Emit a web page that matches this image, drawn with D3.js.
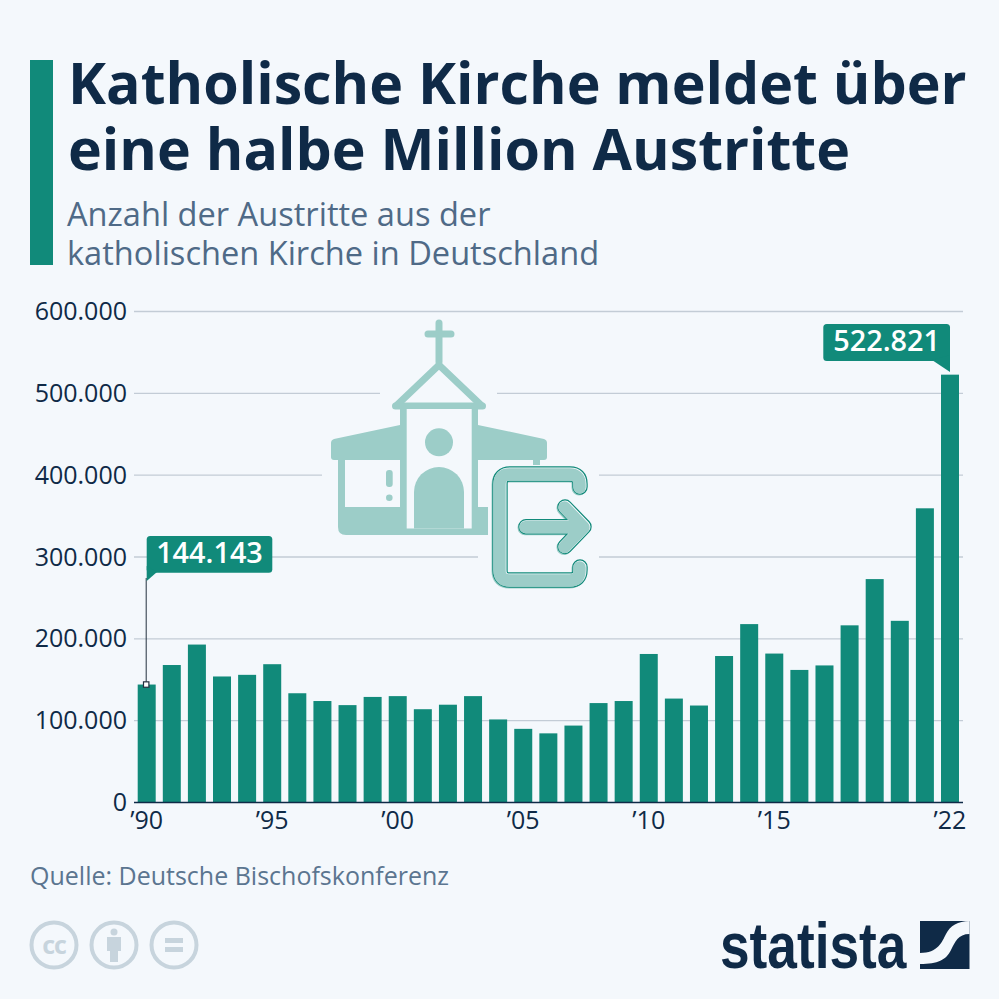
<!DOCTYPE html>
<html>
<head>
<meta charset="utf-8">
<script src="https://cdn.jsdelivr.net/npm/d3@7"></script>
<style>
html, body { margin: 0; padding: 0; background: #f4f8fc; }
svg { display: block; }
text { font-family: "Open Sans", sans-serif; }
</style>
</head>
<body>
<svg id="chart" width="999" height="999"></svg>
<script>
var years = [1990,1991,1992,1993,1994,1995,1996,1997,1998,1999,2000,2001,2002,2003,2004,2005,2006,2007,2008,2009,2010,2011,2012,2013,2014,2015,2016,2017,2018,2019,2020,2021,2022];
var exits = [144143,168000,193000,154000,156000,169000,133500,124000,119000,129000,130000,114000,119500,130000,101500,90000,84500,94000,121500,124000,181500,127000,118500,179000,218000,182000,162000,167500,216500,273000,222000,359500,522821];
var yTicks = [0,100000,200000,300000,400000,500000,600000];
var xTicks = [1990,1995,2000,2005,2010,2015,2022];
var titleLines = ["Katholische Kirche meldet über","eine halbe Million Austritte"];
var subtitleLines = ["Anzahl der Austritte aus der","katholischen Kirche in Deutschland"];
var source = "Quelle: Deutsche Bischofskonferenz";

var bg = "#f4f8fc", teal = "#118a7a", light = "#9ccdc8", navy = "#0f2a47", slate = "#4f6a87";

var svg = d3.select("#chart");
var de = d3.formatLocale({decimal: ",", thousands: ".", grouping: [3], currency: ["", "€"]});
var fmt = de.format(",d");

// header
svg.append("rect").attr("x", 30).attr("y", 60).attr("width", 23).attr("height", 205).attr("fill", teal);
svg.selectAll(".title").data(titleLines).enter().append("text")
    .attr("x", 68)
    .attr("y", function(d, i) { return 104 + i * 66; })
    .attr("font-size", 57.3).attr("font-weight", 700).attr("fill", navy)
    .text(function(d) { return d; });
svg.selectAll(".sub").data(subtitleLines).enter().append("text")
    .attr("x", 67)
    .attr("y", function(d, i) { return 226 + i * 39; })
    .attr("font-size", 32.6).attr("fill", slate)
    .text(function(d) { return d; });

// scales
var x = d3.scaleBand().domain(years).range([137.7, 959]).paddingInner(0.283).paddingOuter(0);
var y = d3.scaleLinear().domain([0, 600000]).range([802.5, 311.5]);

// y axis and grid
var yAxis = d3.axisLeft(y).tickValues(yTicks).tickFormat(function(d) { return fmt(d); }).tickSize(0).tickPadding(7);
var gy = svg.append("g").attr("transform", "translate(134,0)").call(yAxis);
gy.select(".domain").remove();
gy.selectAll("text").attr("font-size", 25).attr("font-family", "'Open Sans', sans-serif").attr("fill", navy);
svg.append("g").selectAll("line").data(yTicks.slice(1)).enter().append("line")
    .attr("x1", 134).attr("x2", 963)
    .attr("y1", function(d) { return y(d); })
    .attr("y2", function(d) { return y(d); })
    .attr("stroke", "#c3ccd6").attr("stroke-width", 1.3);

// gridlines stop around the icon
var gaps = [[380, 385, 117, 16], [322, 468, 277, 16], [478, 549, 121, 16]];
svg.append("g").selectAll("rect").data(gaps).enter().append("rect")
    .attr("x", function(d) { return d[0]; }).attr("y", function(d) { return d[1]; })
    .attr("width", function(d) { return d[2]; }).attr("height", function(d) { return d[3]; })
    .attr("fill", bg);

// church icon
var icon = svg.append("g").attr("fill", light);
icon.append("path").attr("d", "M439 323V362M428 334H451").attr("stroke", light).attr("stroke-width", 7).attr("stroke-linecap", "round").attr("fill", "none");
icon.append("path").attr("d", "M396 406L439 365L482 406").attr("stroke", light).attr("stroke-width", 7).attr("fill", "none");
icon.append("rect").attr("x", 392).attr("y", 402.5).attr("width", 94).attr("height", 7).attr("rx", 3.5);
icon.append("path").attr("d", "M400 425L334 439Q331 440 331 443V457Q331 460 334 460H400Z");
icon.append("path").attr("d", "M478 425L544 439Q547 440 547 443V457Q547 460 544 460H478Z");
icon.append("path").attr("d", "M338 458H345V507H400V406H478V507H488V535H346Q338 535 338 527Z");
icon.append("rect").attr("x", 406.7).attr("y", 409).attr("width", 65).attr("height", 119.5).attr("fill", bg);
icon.append("circle").attr("cx", 439).attr("cy", 442.3).attr("r", 14);
icon.append("path").attr("d", "M414 528.5V492A25 25 0 0 1 464 492V528.5Z");
icon.append("rect").attr("x", 386).attr("y", 470).attr("width", 6.7).attr("height", 17).attr("rx", 3);
icon.append("circle").attr("cx", 389.3).attr("cy", 497.7).attr("r", 3.3);
icon.append("rect").attr("x", 533).attr("y", 460).attr("width", 7).attr("height", 5);

// exit icon: light halo, teal outline, light fill
var door = "M580 487V484Q580 474 570 474H510Q500 474 500 484V570Q500 580 510 580H570Q580 580 580 570V567";
var arrow = "M526 526.7H583M565 507L584 526.7L565 546.5";
[door, arrow].forEach(function(p) {
    [[light, 15, -1], [teal, 15.4, 0], [bg, 13, 0], [light, 12.4, -0.5]].forEach(function(s) {
        icon.append("path").attr("d", p).attr("fill", "none")
            .attr("stroke", s[0]).attr("stroke-width", s[1])
            .attr("stroke-linecap", "round").attr("stroke-linejoin", "round")
            .attr("transform", "translate(" + s[2] + "," + (-s[2]) + ")");
    });
});

// bars
svg.append("g").selectAll("rect").data(years).enter().append("rect")
    .attr("x", function(d) { return x(d); })
    .attr("width", x.bandwidth())
    .attr("y", function(d, i) { return y(exits[i]); })
    .attr("height", function(d, i) { return y(0) - y(exits[i]); })
    .attr("fill", teal);

// x axis
var xAxis = d3.axisBottom(x).tickValues(xTicks)
    .tickFormat(function(d) { return "’" + String(d).slice(2); })
    .tickSize(0).tickPadding(9);
var gx = svg.append("g").attr("transform", "translate(0,802.5)").call(xAxis);
gx.select(".domain").remove();
gx.selectAll("text").attr("font-size", 25).attr("font-family", "'Open Sans', sans-serif").attr("fill", navy);
svg.append("line").attr("x1", 134).attr("x2", 963).attr("y1", 802.5).attr("y2", 802.5)
    .attr("stroke", navy).attr("stroke-width", 1.6);

// callouts
var first = x(1990) + x.bandwidth() / 2 - 0.5;
svg.append("line").attr("x1", first).attr("x2", first).attr("y1", 578).attr("y2", y(exits[0]))
    .attr("stroke", "#23303f").attr("stroke-width", 1);
svg.append("rect").attr("x", first - 2.7).attr("y", y(exits[0]) - 2.7).attr("width", 5.4).attr("height", 5.4)
    .attr("fill", "#fff").attr("stroke", "#23303f").attr("stroke-width", 1.2);

function callout(x0, x1, y0, y1, tail, value) {
    svg.append("rect").attr("x", x0).attr("y", y0).attr("width", x1 - x0).attr("height", y1 - y0).attr("rx", 3.5).attr("fill", teal);
    svg.append("path").attr("d", tail).attr("fill", teal);
    svg.append("text").attr("x", (x0 + x1) / 2).attr("y", y0 + 26.5)
        .attr("text-anchor", "middle").attr("font-size", 28.8).attr("font-weight", 600).attr("fill", "#fff")
        .text(fmt(value));
}
callout(146.7, 272.3, 536, 572.7, "M146.7 566V581L157 572Z", exits[0]);
callout(823.3, 950, 324, 361, "M932 360L950 372V355Z", exits[exits.length - 1]);

// source
svg.append("text").attr("x", 30).attr("y", 885).attr("font-size", 25).attr("fill", "#5b7590").text(source);

// cc icons
var cc = svg.append("g");
[54, 114, 174].forEach(function(cx) {
    cc.append("circle").attr("cx", cx).attr("cy", 945).attr("r", 22.5)
        .attr("fill", "none").attr("stroke", "#c7d4dd").attr("stroke-width", 4);
});
cc.append("text").attr("x", 54).attr("y", 954).attr("text-anchor", "middle").attr("font-size", 25).attr("font-weight", 700).attr("letter-spacing", -1).attr("fill", "#c7d4dd").text("cc");
cc.append("circle").attr("cx", 114).attr("cy", 932).attr("r", 3.5).attr("fill", "#c7d4dd");
cc.append("path").attr("d", "M107 937H121V951H118V962H110V951H107Z").attr("fill", "#c7d4dd");
cc.append("path").attr("d", "M165 938H183V943H165ZM165 947H183V952H165Z").attr("fill", "#c7d4dd");

// statista logo
svg.append("text").attr("x", 0).attr("y", 0)
    .attr("transform", "translate(720,968) scale(0.8,1)")
    .attr("font-size", 64).attr("font-weight", 700).attr("fill", navy)
    .style("font-family", "'Liberation Sans', sans-serif")
    .attr("textLength", 233).attr("lengthAdjust", "spacingAndGlyphs")
    .text("statista");
svg.append("rect").attr("x", 920).attr("y", 921).attr("width", 49.5).attr("height", 48).attr("fill", navy);
svg.append("path").attr("d", "M920 953C938 953 942 942 946 934C950 926 958 921 969.5 921V934C958 934 955 942 951 950C946 960 938 964 920 964Z")
    .attr("fill", bg);
</script>
</body>
</html>
